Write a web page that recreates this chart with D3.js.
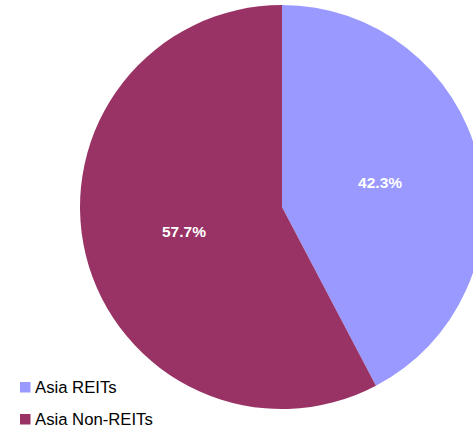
<!DOCTYPE html>
<html>
<head>
<meta charset="utf-8">
<script src="https://cdn.jsdelivr.net/npm/d3@7"></script>
<style>
  body { margin: 0; background: #fff; }
  svg { display: block; }
</style>
</head>
<body>
<div id="chart"></div>
<script>
// values
const categories = ["Asia REITs", "Asia Non-REITs"];
const shares = [42.3, 57.7];
const colours = ["#9999FF", "#993366"];

const width = 473, height = 432;
const cx = 282, cy = 207, radius = 202;

let svg = d3.select("#chart").append("svg")
    .attr("width", width)
    .attr("height", height);

let data = categories.map((c, i) => ({name: c, value: shares[i]}));

let colorScale = d3.scaleOrdinal()
    .domain(categories)
    .range(colours);

let pie = d3.pie()
    .value(d => d.value)
    .sort(null);

let arc = d3.arc()
    .innerRadius(0)
    .outerRadius(radius);

let labelArc = d3.arc()
    .innerRadius(radius * 0.5)
    .outerRadius(radius * 0.5);

let g = svg.append("g")
    .attr("transform", "translate(" + cx + "," + cy + ")");

let arcs = pie(data);

g.selectAll("path")
    .data(arcs)
    .join("path")
    .attr("d", arc)
    .attr("fill", d => colorScale(d.data.name));

g.selectAll("text")
    .data(arcs)
    .join("text")
    .attr("x", d => labelArc.centroid(d)[0])
    .attr("y", d => labelArc.centroid(d)[1])
    .attr("text-anchor", "middle")
    .attr("dominant-baseline", "central")
    .attr("font-family", "Liberation Sans, Arial, sans-serif")
    .attr("font-weight", "bold")
    .attr("font-size", 15.5)
    .attr("fill", "#fff")
    .text(d => d.data.value.toFixed(1) + "%");

//legend
const vstep = 32;
let legend = svg.append("g")
    .attr("transform", "translate(20,382)");

legend.selectAll("rect")
    .data(categories)
    .join("rect")
    .attr("x", 0)
    .attr("y", (d, i) => i * vstep)
    .attr("width", 10.5)
    .attr("height", 10.5)
    .attr("fill", d => colorScale(d));

legend.selectAll("text")
    .data(categories)
    .join("text")
    .attr("x", 15)
    .attr("y", (d, i) => i * vstep + 10.5)
    .attr("font-family", "Liberation Sans, Arial, sans-serif")
    .attr("font-size", 16.7)
    .attr("fill", "#000")
    .text(d => d);
</script>
</body>
</html>
